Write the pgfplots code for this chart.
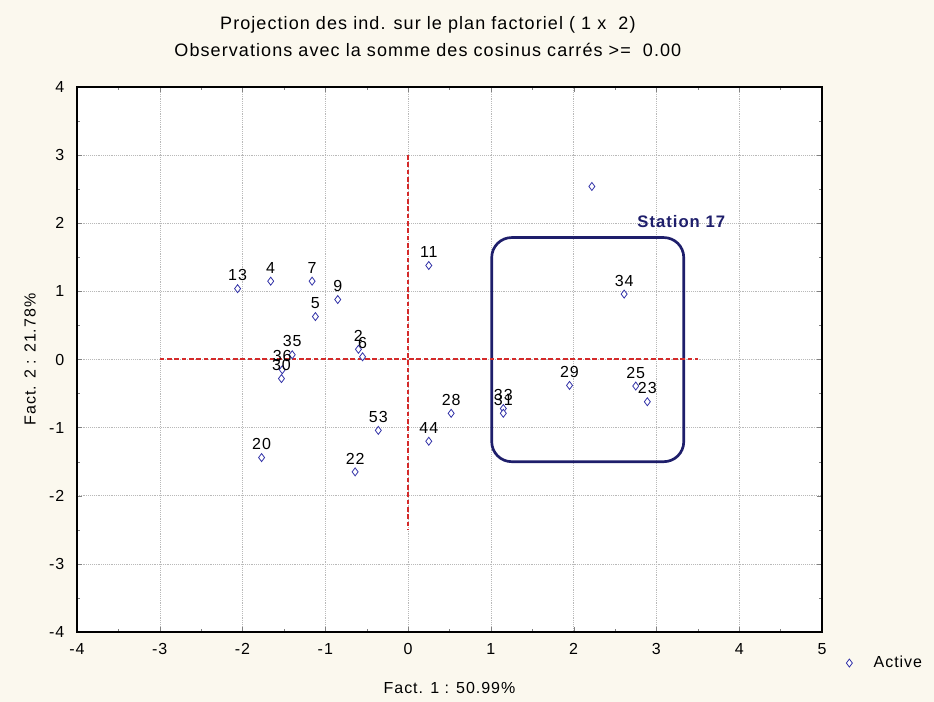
\documentclass[border=0pt]{standalone}
\usepackage{pgfplots}
\usepackage{pgfplotstable}
\pgfplotsset{compat=1.18}
\usepackage{fontspec}
\setmainfont{Liberation Sans}[LetterSpace=6]

\definecolor{cream}{HTML}{FBF8EE}
\definecolor{ptblue}{HTML}{3333A8}
\definecolor{navy}{HTML}{1E1E6B}
\definecolor{axred}{HTML}{D42A2A}

% individus sur le plan factoriel 1 x 2
\pgfplotstableread{
x y lab
-2.06 1.04 13
-1.66 1.15 4
-1.16 1.15 7
-0.85 0.88 9
-1.12 0.63 5
-1.40 0.07 35
-1.52 -0.15 36
-1.53 -0.28 30
-0.60 0.15 2
-0.55 0.04 6
0.25 1.38 11
-0.36 -1.04 53
-0.64 -1.65 22
0.25 -1.20 44
0.52 -0.79 28
1.15 -0.72 33
1.15 -0.79 31
1.95 -0.38 29
2.75 -0.39 25
2.89 -0.62 23
2.61 0.96 34
2.22 2.54 {}
-1.77 -1.44 20
}\pts

\begin{document}
\begin{tikzpicture}
\path[use as bounding box, fill=cream] (-57.75pt,-52.5pt) rectangle (642.75pt,474pt);
\begin{axis}[
  at={(0,0)}, anchor=south west,
  scale only axis,
  width=558.75pt, height=408.75pt,
  xmin=-4, xmax=5, ymin=-4, ymax=4,
  xtick={-4,...,5}, ytick={-4,...,4},
  minor x tick num=1, minor y tick num=1,
  tick align=inside,
  major tick length=4pt, minor tick length=2.5pt,
  grid=major,
  major grid style={gray!55, densely dotted},
  axis background/.style={fill=white},
  axis line style={black, line width=0.8pt},
  /pgf/number format/assume math mode=true,
  tick label style={font=\fontsize{12}{14}\selectfont},
  xticklabel style={yshift=-5pt},
  yticklabel style={xshift=-6pt},
  label style={font=\fontsize{12}{14}\selectfont},
  xlabel={Fact. 1 : 50.99\%},
  ylabel={Fact. 2 : 21.78\%},
  xlabel style={at={(axis description cs:0.5,-0.103)}, anchor=center},
  ylabel style={at={(axis description cs:-0.063,0.5)}, anchor=center},
  legend style={at={(axis description cs:1.027,-0.057)}, anchor=west,
    draw=none, fill=none, column sep=14pt, font=\fontsize{12}{14}\selectfont},
  clip=false,
]
\draw[navy, line width=2pt, rounded corners=15pt]
  (axis cs:1.01,-1.5) rectangle (axis cs:3.33,1.79);
\node[navy, font=\bfseries\fontsize{12.5}{14}\selectfont]
  at (axis cs:3.3,2.03) {Station 17};

\addplot[only marks, mark=diamond*, mark size=3pt,
  mark options={draw=ptblue, fill=white, line width=0.6pt},
  point meta=explicit symbolic,
  nodes near coords,
  nodes near coords style={black, font=\fontsize{12}{14}\selectfont,
    anchor=south, inner sep=0pt, yshift=5.5pt},
] table[x=x, y=y, meta=lab] {\pts};
\addlegendentry{Active}

\addplot[axred, line width=1pt, dash pattern=on 3.5pt off 2pt, forget plot]
  coordinates {(-3,0.005) (3.5,0.005)};
\addplot[axred, line width=1pt, dash pattern=on 3.5pt off 2pt, forget plot]
  coordinates {(0,3) (0,-2.5)};

\node[font=\fontsize{13.5}{15}\selectfont] at (axis description cs:0.471,1.114)
  {Projection des ind. sur le plan factoriel ( 1 x ~2)};
\node[font=\fontsize{13.5}{15}\selectfont] at (axis description cs:0.471,1.068)
  {Observations avec la somme des cosinus carrés >= ~0.00};
\end{axis}
\end{tikzpicture}
\end{document}
